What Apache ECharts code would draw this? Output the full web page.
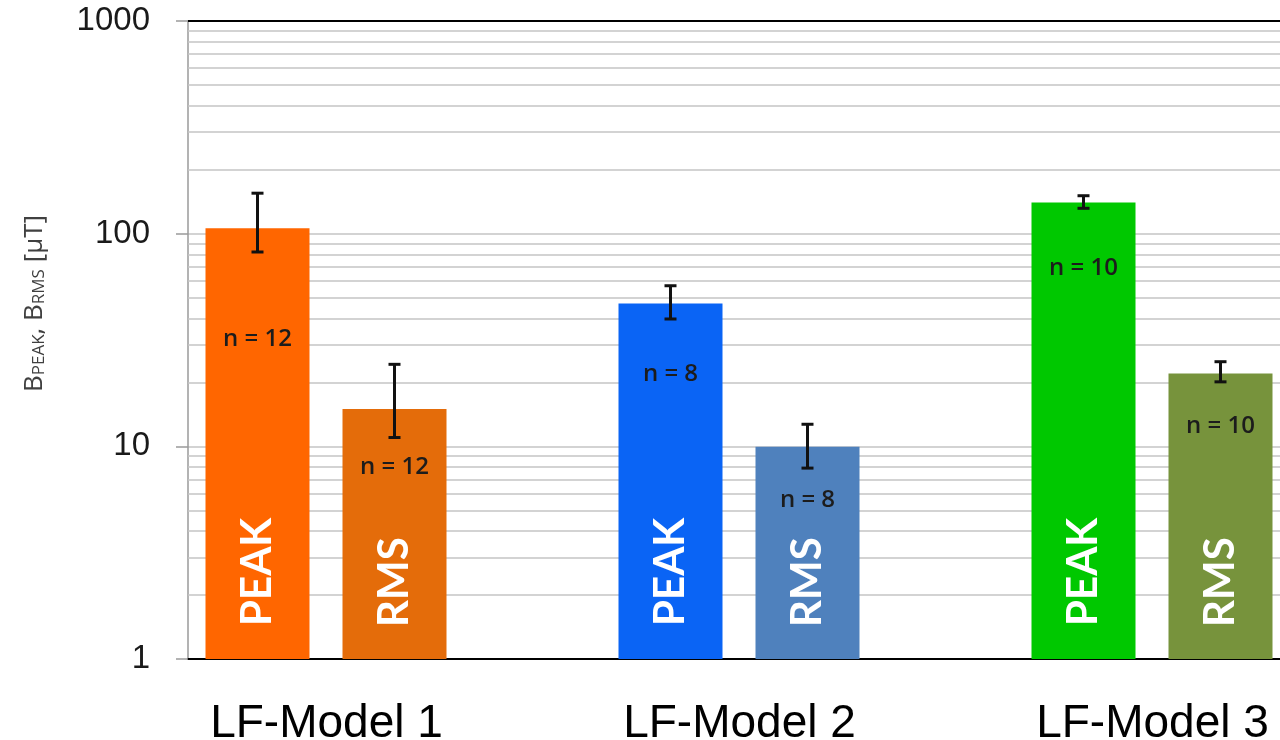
<!DOCTYPE html>
<html>
<head>
<meta charset="utf-8">
<script src="https://cdn.jsdelivr.net/npm/echarts@6/dist/echarts.min.js"></script>
<style>
html,body{margin:0;padding:0;background:#fff;}
#chart{width:1280px;height:740px;}
</style>
</head>
<body>
<div id="chart"></div>
<script>
// ---- data ----
const categories = ['LF-Model 1', 'LF-Model 2', 'LF-Model 3'];
const peakValues = [106, 47, 140];
const peakErrLow = [82, 39.7, 131.6];
const peakErrHigh = [155, 56.9, 150.8];
const peakN = [12, 8, 10];
const rmsValues = [15.0, 9.96, 22.0];
const rmsErrLow = [11.0, 7.9, 20.1];
const rmsErrHigh = [24.3, 12.7, 25.0];
const rmsN = [12, 8, 10];
const yTicks = [1, 10, 100, 1000];
const minorGridValues = [2,3,4,5,6,7,8,9,20,30,40,50,60,70,80,90,200,300,400,500,600,700,800,900];

// ---- styles ----
const peakColors = ['#FF6600', '#0A64F5', '#00C800'];
const rmsColors = ['#E46C0A', '#4F81BD', '#77933C'];
const peakNOffset = [111, 71, 66];
const rmsNOffset = [58, 53, 53];
const BAR_W = 104, BAR_GAP = 33;
const peakShift = -(BAR_W + BAR_GAP);
const rmsShift = 0;

function errSeries(name, lows, highs, vals, ns, offsets, shift) {
  return {
    type: 'custom',
    name: name,
    z: 4,
    silent: true,
    data: categories.map((c, i) => [i, lows[i], highs[i], vals[i], ns[i]]),
    encode: { x: 0, y: [1, 2] },
    renderItem: function (params, api) {
      const i = params.dataIndex;
      const cat = api.value(0);
      const pLo = api.coord([cat, api.value(1)]);
      const pHi = api.coord([cat, api.value(2)]);
      const pTop = api.coord([cat, api.value(3)]);
      const x = pLo[0] + shift;
      const cap = 6;
      const ls = { stroke: '#111', lineWidth: 3 };
      return {
        type: 'group',
        children: [
          { type: 'line', shape: { x1: x, y1: pLo[1], x2: x, y2: pHi[1] }, style: ls },
          { type: 'line', shape: { x1: x - cap, y1: pLo[1], x2: x + cap, y2: pLo[1] }, style: ls },
          { type: 'line', shape: { x1: x - cap, y1: pHi[1], x2: x + cap, y2: pHi[1] }, style: ls },
          { type: 'text', style: {
              text: 'n = ' + api.value(4), x: x, y: pTop[1] + offsets[i],
              align: 'center', verticalAlign: 'middle',
              fontFamily: 'Open Sans', fontWeight: 600, fontSize: 24, fill: '#1c1c1c' } }
        ]
      };
    }
  };
}

const chart = echarts.init(document.getElementById('chart'));
chart.setOption({
  animation: false,
  backgroundColor: '#ffffff',
  grid: { left: 188, top: 21, bottom: 81, right: 1280 - 188 - 3 * 413, outerBoundsMode: 'none', containLabel: false },
  xAxis: {
    type: 'category',
    data: categories,
    axisLine: { lineStyle: { color: '#000', width: 2 } },
    axisTick: { show: false },
    axisLabel: {
      interval: 0, margin: 42, color: '#000',
      fontFamily: 'Liberation Sans', fontSize: 46,
      padding: [0, 136, 0, 0], hideOverlap: false
    },
    splitLine: { show: false }
  },
  yAxis: {
    type: 'log',
    logBase: 10,
    min: yTicks[0],
    max: yTicks[yTicks.length - 1],
    axisLine: { show: true, lineStyle: { color: '#9a9a9a', width: 1.5 } },
    axisTick: { show: true, inside: false, length: 12, lineStyle: { color: '#9a9a9a', width: 1.5 } },
    axisLabel: { margin: 38, color: '#1a1a1a', fontFamily: 'Liberation Sans', fontSize: 33,
      formatter: v => String(v) },
    splitLine: { show: true, lineStyle: { color: '#c4c4c4', width: 1.5 } },
    name: '{b|B}{s|PEAK}{b|, B}{s|RMS}{b| [μT]}',
    nameLocation: 'middle',
    nameRotate: 90,
    nameGap: 140,
    nameTextStyle: {
      padding: [0, 0, 0, 73],
      rich: {
        b: { fontFamily: 'Open Sans', fontSize: 26, color: '#404040', verticalAlign: 'bottom', lineHeight: 32 },
        s: { fontFamily: 'Open Sans', fontSize: 17, color: '#404040', verticalAlign: 'bottom', lineHeight: 30 }
      }
    }
  },
  series: [
    {
      type: 'bar',
      name: 'PEAK',
      barWidth: BAR_W,
      barGap: (BAR_GAP / BAR_W * 100) + '%',
      data: peakValues.map((v, i) => ({ value: v, itemStyle: { color: peakColors[i] } })),
      label: {
        show: true, formatter: 'PEAK', position: 'insideBottom', rotate: 90,
        align: 'left', verticalAlign: 'middle', distance: 33,
        color: '#fff', fontFamily: 'Lato', fontWeight: 'bold', fontSize: 42
      }
    },
    {
      type: 'bar',
      name: 'RMS',
      barWidth: BAR_W,
      data: rmsValues.map((v, i) => ({ value: v, itemStyle: { color: rmsColors[i] } })),
      label: {
        show: true, formatter: 'RMS', position: 'insideBottom', rotate: 90,
        align: 'left', verticalAlign: 'middle', distance: 32,
        color: '#fff', fontFamily: 'Lato', fontWeight: 'bold', fontSize: 42
      }
    },
    {
      type: 'bar',
      name: 'spacer',
      barWidth: BAR_W,
      data: categories.map(() => '-'),
      markLine: {
        silent: true, symbol: 'none', z: 1,
        label: { show: false },
        lineStyle: { color: '#c4c4c4', width: 1.5, type: 'solid' },
        data: minorGridValues.map(v => ({ yAxis: v }))
      }
    },
    {
      type: 'line',
      name: 'top',
      data: [],
      markLine: {
        silent: true, symbol: 'none', z: 3,
        label: { show: false },
        lineStyle: { color: '#000', width: 2, type: 'solid' },
        data: [{ yAxis: yTicks[yTicks.length - 1] }]
      }
    },
    errSeries('PEAK err', peakErrLow, peakErrHigh, peakValues, peakN, peakNOffset, peakShift),
    errSeries('RMS err', rmsErrLow, rmsErrHigh, rmsValues, rmsN, rmsNOffset, rmsShift)
  ]
});
</script>
</body>
</html>
